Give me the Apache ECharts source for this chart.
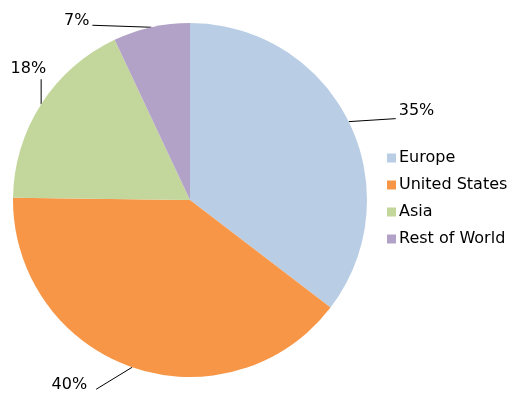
<!DOCTYPE html>
<html>
<head>
<meta charset="utf-8">
<script src="https://cdn.jsdelivr.net/npm/echarts@6/dist/echarts.min.js"></script>
<style>
  html, body { margin: 0; padding: 0; background: #fff; }
  #chart { width: 519px; height: 397px; }
</style>
</head>
<body>
<div id="chart"></div>
<script>
var categories = ["Europe", "United States", "Asia", "Rest of World"];
var shares = [35.4, 39.8, 17.8, 7.0];
var colors = ["#B9CDE5", "#F79646", "#C3D69B", "#B3A2C7"];

// where each leader line ends, relative to the slice edge, and how the text sits
var leaders = [
  { dx: 47, dy: -3, tx: 3, ty: -8, align: "left" },
  { dx: -36, dy: 22, tx: -9, ty: -4, align: "right" },
  { dx: 0, dy: -25, tx: 5, ty: -10, align: "right" },
  { dx: -59, dy: -2, tx: -3, ty: -4, align: "right" }
];

var FONT = "DejaVu Sans";

var chart = echarts.init(document.getElementById("chart"));

var seriesData = [];
for (var i = 0; i < categories.length; i++) {
  seriesData.push({ name: categories[i], value: shares[i], itemStyle: { color: colors[i] } });
}

chart.setOption({
  animation: false,
  legend: {
    orient: "vertical",
    left: 382,
    top: 145,
    itemWidth: 9,
    itemHeight: 9,
    itemGap: 11,
    icon: "rect",
    textStyle: { fontFamily: FONT, fontSize: 16, color: "#000", padding: [0, 0, 0, -2] },
    data: categories
  },
  series: [{
    type: "pie",
    center: [190, 200],
    radius: [0, 177],
    startAngle: 90,
    clockwise: true,
    avoidLabelOverlap: false,
    itemStyle: { borderWidth: 0 },
    label: {
      show: true,
      position: "outside",
      formatter: function (p) { return Math.round(p.percent) + "%"; },
      fontFamily: FONT,
      fontSize: 16,
      color: "#000",
      overflow: "none"
    },
    labelLine: {
      show: true,
      length: 5,
      length2: 20,
      lineStyle: { color: "#000", width: 1 }
    },
    labelLayout: function (params) {
      var l = leaders[params.dataIndex];
      var p0 = params.labelLinePoints[0];
      var end = [p0[0] + l.dx, p0[1] + l.dy];
      return {
        x: end[0] + l.tx,
        y: end[1] + l.ty,
        align: l.align,
        verticalAlign: "middle",
        labelLinePoints: [p0, end]
      };
    },
    emphasis: { disabled: true },
    data: seriesData
  }]
});
</script>
</body>
</html>
